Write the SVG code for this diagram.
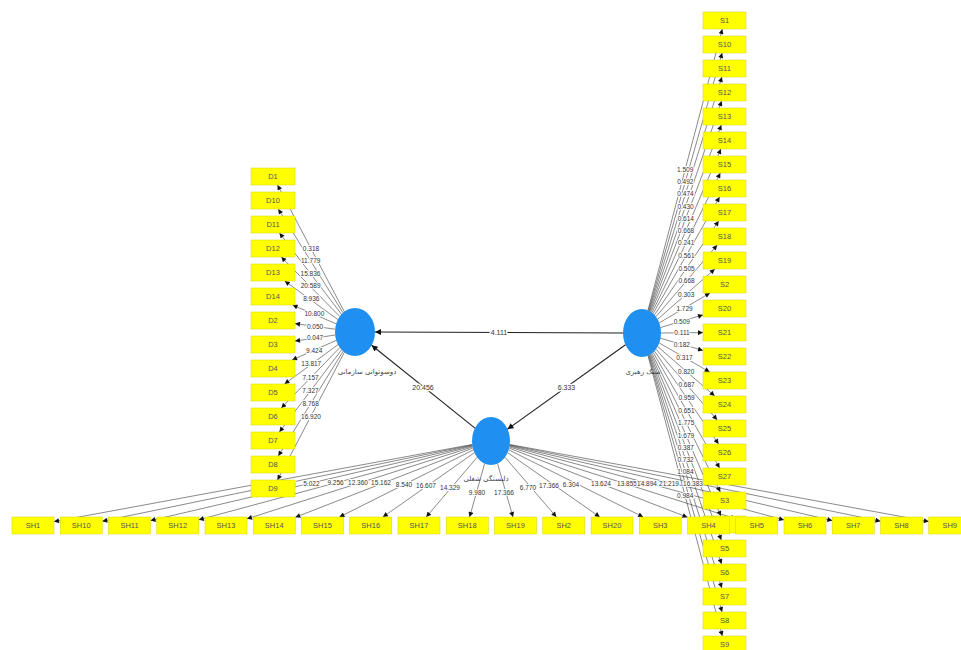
<svg xmlns="http://www.w3.org/2000/svg" width="961" height="650" viewBox="0 0 961 650">
<style>
.c{stroke:#3a3a3a;stroke-width:0.6;fill:none;marker-end:url(#ah)}
.m{stroke:#222;stroke-width:1.1;fill:none;marker-end:url(#ah2)}
.lb{font-family:"Liberation Sans",Arial,sans-serif;font-size:6.5px;fill:#333;text-anchor:middle;dominant-baseline:central;stroke:#fff;stroke-width:2;paint-order:stroke}
.ml{font-family:"Liberation Sans",Arial,sans-serif;font-size:7px;fill:#333;text-anchor:middle;dominant-baseline:central;stroke:#fff;stroke-width:3;paint-order:stroke}
.box{fill:#ffff00;stroke:#d4d400;stroke-width:0.5}
.bt{font-family:"Liberation Sans",Arial,sans-serif;font-size:7.5px;fill:#555;text-anchor:middle;dominant-baseline:central}
.lv{fill:#1f8ff0}
.fa{font-family:"DejaVu Sans","Noto Sans",sans-serif;font-size:7px;fill:#444;text-anchor:middle}
</style>
<defs>
<marker id="ah" viewBox="0 0 10 10" refX="10" refY="5" markerWidth="6" markerHeight="5" markerUnits="userSpaceOnUse" orient="auto"><path d="M0,0L10,5L0,10z" fill="#111"/></marker>
<marker id="ah2" viewBox="0 0 10 10" refX="10" refY="5" markerWidth="8" markerHeight="6" markerUnits="userSpaceOnUse" orient="auto"><path d="M0,0L10,5L0,10z" fill="#111"/></marker>
</defs>
<rect width="961" height="650" fill="#fff"/>

<g id="ambidexterity"><ellipse class="lv" cx="355" cy="332" rx="20" ry="24"/><text class="fa" x="367" y="374">دوسوتوانی سازمانی</text></g>
<g id="leadership"><ellipse class="lv" cx="642" cy="333" rx="19" ry="24"/><text class="fa" x="643" y="374">سبک رهبری</text></g>
<g id="engagement"><ellipse class="lv" cx="491" cy="441" rx="19" ry="24"/><text class="fa" x="486" y="481">دلبستگی شغلی</text></g>

<g id="connectors">
<line class="m" x1="623" y1="333" x2="375" y2="332"/>
<line class="m" x1="475" y1="428.1" x2="371.6" y2="345.3"/>
<line class="m" x1="625.5" y1="344.8" x2="507.5" y2="429.2"/>
<text class="ml" x="499" y="332.5">4.111</text>
<text class="ml" x="423" y="387">20.456</text>
<text class="ml" x="566.5" y="387">6.333</text>

<line class="c" x1="344.3" y1="311.7" x2="277.5" y2="185"/>
<line class="c" x1="343" y1="312.8" x2="278.3" y2="209"/>
<line class="c" x1="341.5" y1="314.3" x2="279.5" y2="233"/>
<line class="c" x1="339.8" y1="316.5" x2="281.3" y2="257"/>
<line class="c" x1="337.9" y1="319.6" x2="284.7" y2="281"/>
<line class="c" x1="336.2" y1="323.9" x2="292.6" y2="305"/>
<line class="c" x1="335.1" y1="329.2" x2="295" y2="323.6"/>
<line class="c" x1="335.2" y1="335" x2="295" y2="341.1"/>
<line class="c" x1="336.3" y1="340.3" x2="292.1" y2="360"/>
<line class="c" x1="338" y1="344.6" x2="284.5" y2="384"/>
<line class="c" x1="339.8" y1="347.6" x2="281.3" y2="408"/>
<line class="c" x1="341.6" y1="349.8" x2="279.4" y2="432"/>
<line class="c" x1="343.1" y1="351.3" x2="278.3" y2="456"/>
<line class="c" x1="344.4" y1="352.3" x2="277.5" y2="480"/>

<line class="c" x1="648" y1="310.2" x2="722.3" y2="29"/>
<line class="c" x1="648.5" y1="310.4" x2="722.1" y2="53"/>
<line class="c" x1="649" y1="310.7" x2="721.9" y2="77"/>
<line class="c" x1="649.6" y1="311" x2="721.6" y2="101"/>
<line class="c" x1="650.2" y1="311.4" x2="721.3" y2="125"/>
<line class="c" x1="651" y1="311.9" x2="720.9" y2="149"/>
<line class="c" x1="652" y1="312.6" x2="720.3" y2="173"/>
<line class="c" x1="653.1" y1="313.5" x2="719.6" y2="197"/>
<line class="c" x1="654.4" y1="314.9" x2="718.7" y2="221"/>
<line class="c" x1="655.9" y1="316.7" x2="717.2" y2="245"/>
<line class="c" x1="657.6" y1="319.3" x2="714.8" y2="269"/>
<line class="c" x1="659.2" y1="322.9" x2="710" y2="293"/>
<line class="c" x1="660.5" y1="327.5" x2="703" y2="314.9"/>
<line class="c" x1="661" y1="333" x2="703" y2="332.6"/>
<line class="c" x1="660.5" y1="338.3" x2="703" y2="350.4"/>
<line class="c" x1="659.3" y1="343" x2="709.7" y2="372"/>
<line class="c" x1="657.7" y1="346.6" x2="714.7" y2="396"/>
<line class="c" x1="656" y1="349.2" x2="717.2" y2="420"/>
<line class="c" x1="654.5" y1="351.1" x2="718.6" y2="444"/>
<line class="c" x1="653.2" y1="352.4" x2="719.6" y2="468"/>
<line class="c" x1="652" y1="353.4" x2="720.3" y2="492"/>
<line class="c" x1="651.1" y1="354.1" x2="720.8" y2="516"/>
<line class="c" x1="650.3" y1="354.6" x2="721.3" y2="540"/>
<line class="c" x1="649.6" y1="355" x2="721.6" y2="564"/>
<line class="c" x1="649" y1="355.3" x2="721.8" y2="588"/>
<line class="c" x1="648.5" y1="355.6" x2="722.1" y2="612"/>
<line class="c" x1="648" y1="355.8" x2="722.3" y2="636"/>

<line class="c" x1="472.2" y1="444.5" x2="54" y2="521.6"/>
<line class="c" x1="472.2" y1="444.9" x2="102.3" y2="521.2"/>
<line class="c" x1="472.3" y1="445.4" x2="150.5" y2="520.6"/>
<line class="c" x1="472.4" y1="446" x2="198.8" y2="519.8"/>
<line class="c" x1="472.6" y1="446.9" x2="247" y2="518.8"/>
<line class="c" x1="472.8" y1="448.1" x2="295.3" y2="517.3"/>
<line class="c" x1="473.3" y1="449.9" x2="339.4" y2="517"/>
<line class="c" x1="474.4" y1="452.7" x2="382.9" y2="517"/>
<line class="c" x1="477.1" y1="457.3" x2="426.2" y2="517"/>
<line class="c" x1="484.6" y1="463.6" x2="469.6" y2="517"/>
<line class="c" x1="497.5" y1="463.5" x2="513" y2="517"/>
<line class="c" x1="505" y1="457.2" x2="556.4" y2="517"/>
<line class="c" x1="507.6" y1="452.6" x2="599.8" y2="517"/>
<line class="c" x1="508.7" y1="449.8" x2="643.2" y2="517"/>
<line class="c" x1="509.2" y1="448.1" x2="687.5" y2="517.3"/>
<line class="c" x1="509.4" y1="446.9" x2="735.8" y2="518.8"/>
<line class="c" x1="509.6" y1="446" x2="784" y2="519.9"/>
<line class="c" x1="509.7" y1="445.4" x2="832.3" y2="520.6"/>
<line class="c" x1="509.8" y1="444.9" x2="880.5" y2="521.2"/>
<line class="c" x1="509.8" y1="444.5" x2="928.8" y2="521.6"/>

<text class="lb" x="311" y="248.4">0.318</text>
<text class="lb" x="310.7" y="260.9">11.779</text>
<text class="lb" x="310.5" y="273.2">15.836</text>
<text class="lb" x="310.6" y="285.5">20.589</text>
<text class="lb" x="311.3" y="298.3">8.936</text>
<text class="lb" x="314.4" y="313">10.800</text>
<text class="lb" x="315.1" y="326">0.050</text>
<text class="lb" x="315.1" y="337.8">0.047</text>
<text class="lb" x="314.2" y="350.2">9.424</text>
<text class="lb" x="311.3" y="363.8">13.817</text>
<text class="lb" x="310.6" y="377.3">7.157</text>
<text class="lb" x="310.5" y="390.3">7.327</text>
<text class="lb" x="310.7" y="403">8.768</text>
<text class="lb" x="311" y="416">16.920</text>

<text class="lb" x="685.2" y="169.6">1.509</text>
<text class="lb" x="685.3" y="181.7">0.492</text>
<text class="lb" x="685.5" y="193.9">0.474</text>
<text class="lb" x="685.6" y="206">0.430</text>
<text class="lb" x="685.8" y="218.2">0.614</text>
<text class="lb" x="686" y="230.5">0.668</text>
<text class="lb" x="686.2" y="242.8">0.241</text>
<text class="lb" x="686.4" y="255.3">0.561</text>
<text class="lb" x="686.6" y="268">0.505</text>
<text class="lb" x="686.6" y="280.9">0.668</text>
<text class="lb" x="686.2" y="294.2">0.303</text>
<text class="lb" x="684.6" y="308">1.729</text>
<text class="lb" x="681.8" y="321.2">0.509</text>
<text class="lb" x="682" y="332.8">0.111</text>
<text class="lb" x="681.8" y="344.4">0.182</text>
<text class="lb" x="684.5" y="357.5">0.317</text>
<text class="lb" x="686.2" y="371.3">0.820</text>
<text class="lb" x="686.6" y="384.6">0.687</text>
<text class="lb" x="686.6" y="397.6">0.959</text>
<text class="lb" x="686.4" y="410.2">0.651</text>
<text class="lb" x="686.2" y="422.7">1.775</text>
<text class="lb" x="686" y="435.1">1.679</text>
<text class="lb" x="685.8" y="447.3">0.387</text>
<text class="lb" x="685.6" y="459.5">0.732</text>
<text class="lb" x="685.4" y="471.7">1.084</text>
<text class="lb" x="685.2" y="495.9">0.984</text>

<text class="lb" x="263.1" y="483.1">0.181</text>
<text class="lb" x="287.2" y="483.1">1.715</text>
<text class="lb" x="311.4" y="483">5.022</text>
<text class="lb" x="335.6" y="482.9">9.256</text>
<text class="lb" x="358" y="482.9">12.360</text>
<text class="lb" x="381" y="482.7">15.162</text>
<text class="lb" x="404" y="484">8.540</text>
<text class="lb" x="426" y="485">16.607</text>
<text class="lb" x="450" y="487.2">14.329</text>
<text class="lb" x="477" y="492">9.980</text>
<text class="lb" x="504" y="492">17.366</text>
<text class="lb" x="528" y="487.5">6.770</text>
<text class="lb" x="549" y="485">17.366</text>
<text class="lb" x="571" y="484">6.304</text>
<text class="lb" x="601" y="483">13.624</text>
<text class="lb" x="627" y="483">13.855</text>
<text class="lb" x="647" y="483">14.894</text>
<text class="lb" x="669" y="483">21.219</text>
<text class="lb" x="693" y="483">16.383</text>
</g>

<g id="D1"><rect class="box" x="251" y="168" width="44" height="17"/><text class="bt" x="273" y="176.5">D1</text></g>
<g id="D10"><rect class="box" x="251" y="192" width="44" height="17"/><text class="bt" x="273" y="200.5">D10</text></g>
<g id="D11"><rect class="box" x="251" y="216" width="44" height="17"/><text class="bt" x="273" y="224.5">D11</text></g>
<g id="D12"><rect class="box" x="251" y="240" width="44" height="17"/><text class="bt" x="273" y="248.5">D12</text></g>
<g id="D13"><rect class="box" x="251" y="264" width="44" height="17"/><text class="bt" x="273" y="272.5">D13</text></g>
<g id="D14"><rect class="box" x="251" y="288" width="44" height="17"/><text class="bt" x="273" y="296.5">D14</text></g>
<g id="D2"><rect class="box" x="251" y="312" width="44" height="17"/><text class="bt" x="273" y="320.5">D2</text></g>
<g id="D3"><rect class="box" x="251" y="336" width="44" height="17"/><text class="bt" x="273" y="344.5">D3</text></g>
<g id="D4"><rect class="box" x="251" y="360" width="44" height="17"/><text class="bt" x="273" y="368.5">D4</text></g>
<g id="D5"><rect class="box" x="251" y="384" width="44" height="17"/><text class="bt" x="273" y="392.5">D5</text></g>
<g id="D6"><rect class="box" x="251" y="408" width="44" height="17"/><text class="bt" x="273" y="416.5">D6</text></g>
<g id="D7"><rect class="box" x="251" y="432" width="44" height="17"/><text class="bt" x="273" y="440.5">D7</text></g>
<g id="D8"><rect class="box" x="251" y="456" width="44" height="17"/><text class="bt" x="273" y="464.5">D8</text></g>
<g id="D9"><rect class="box" x="251" y="480" width="44" height="17"/><text class="bt" x="273" y="488.5">D9</text></g>

<g id="S1"><rect class="box" x="703" y="12" width="43" height="17"/><text class="bt" x="724.5" y="20.5">S1</text></g>
<g id="S10"><rect class="box" x="703" y="36" width="43" height="17"/><text class="bt" x="724.5" y="44.5">S10</text></g>
<g id="S11"><rect class="box" x="703" y="60" width="43" height="17"/><text class="bt" x="724.5" y="68.5">S11</text></g>
<g id="S12"><rect class="box" x="703" y="84" width="43" height="17"/><text class="bt" x="724.5" y="92.5">S12</text></g>
<g id="S13"><rect class="box" x="703" y="108" width="43" height="17"/><text class="bt" x="724.5" y="116.5">S13</text></g>
<g id="S14"><rect class="box" x="703" y="132" width="43" height="17"/><text class="bt" x="724.5" y="140.5">S14</text></g>
<g id="S15"><rect class="box" x="703" y="156" width="43" height="17"/><text class="bt" x="724.5" y="164.5">S15</text></g>
<g id="S16"><rect class="box" x="703" y="180" width="43" height="17"/><text class="bt" x="724.5" y="188.5">S16</text></g>
<g id="S17"><rect class="box" x="703" y="204" width="43" height="17"/><text class="bt" x="724.5" y="212.5">S17</text></g>
<g id="S18"><rect class="box" x="703" y="228" width="43" height="17"/><text class="bt" x="724.5" y="236.5">S18</text></g>
<g id="S19"><rect class="box" x="703" y="252" width="43" height="17"/><text class="bt" x="724.5" y="260.5">S19</text></g>
<g id="S2"><rect class="box" x="703" y="276" width="43" height="17"/><text class="bt" x="724.5" y="284.5">S2</text></g>
<g id="S20"><rect class="box" x="703" y="300" width="43" height="17"/><text class="bt" x="724.5" y="308.5">S20</text></g>
<g id="S21"><rect class="box" x="703" y="324" width="43" height="17"/><text class="bt" x="724.5" y="332.5">S21</text></g>
<g id="S22"><rect class="box" x="703" y="348" width="43" height="17"/><text class="bt" x="724.5" y="356.5">S22</text></g>
<g id="S23"><rect class="box" x="703" y="372" width="43" height="17"/><text class="bt" x="724.5" y="380.5">S23</text></g>
<g id="S24"><rect class="box" x="703" y="396" width="43" height="17"/><text class="bt" x="724.5" y="404.5">S24</text></g>
<g id="S25"><rect class="box" x="703" y="420" width="43" height="17"/><text class="bt" x="724.5" y="428.5">S25</text></g>
<g id="S26"><rect class="box" x="703" y="444" width="43" height="17"/><text class="bt" x="724.5" y="452.5">S26</text></g>
<g id="S27"><rect class="box" x="703" y="468" width="43" height="17"/><text class="bt" x="724.5" y="476.5">S27</text></g>
<g id="S3"><rect class="box" x="703" y="492" width="43" height="17"/><text class="bt" x="724.5" y="500.5">S3</text></g>
<g id="S4"><rect class="box" x="703" y="516" width="43" height="17"/><text class="bt" x="724.5" y="524.5">S4</text></g>
<g id="S5"><rect class="box" x="703" y="540" width="43" height="17"/><text class="bt" x="724.5" y="548.5">S5</text></g>
<g id="S6"><rect class="box" x="703" y="564" width="43" height="17"/><text class="bt" x="724.5" y="572.5">S6</text></g>
<g id="S7"><rect class="box" x="703" y="588" width="43" height="17"/><text class="bt" x="724.5" y="596.5">S7</text></g>
<g id="S8"><rect class="box" x="703" y="612" width="43" height="17"/><text class="bt" x="724.5" y="620.5">S8</text></g>
<g id="S9"><rect class="box" x="703" y="636" width="43" height="17"/><text class="bt" x="724.5" y="644.5">S9</text></g>

<g id="SH1"><rect class="box" x="12" y="517" width="42" height="17"/><text class="bt" x="33" y="525.5">SH1</text></g>
<g id="SH10"><rect class="box" x="60.25" y="517" width="42" height="17"/><text class="bt" x="81.25" y="525.5">SH10</text></g>
<g id="SH11"><rect class="box" x="108.5" y="517" width="42" height="17"/><text class="bt" x="129.5" y="525.5">SH11</text></g>
<g id="SH12"><rect class="box" x="156.75" y="517" width="42" height="17"/><text class="bt" x="177.75" y="525.5">SH12</text></g>
<g id="SH13"><rect class="box" x="205" y="517" width="42" height="17"/><text class="bt" x="226" y="525.5">SH13</text></g>
<g id="SH14"><rect class="box" x="253.25" y="517" width="42" height="17"/><text class="bt" x="274.25" y="525.5">SH14</text></g>
<g id="SH15"><rect class="box" x="301.5" y="517" width="42" height="17"/><text class="bt" x="322.5" y="525.5">SH15</text></g>
<g id="SH16"><rect class="box" x="349.75" y="517" width="42" height="17"/><text class="bt" x="370.75" y="525.5">SH16</text></g>
<g id="SH17"><rect class="box" x="398" y="517" width="42" height="17"/><text class="bt" x="419" y="525.5">SH17</text></g>
<g id="SH18"><rect class="box" x="446.25" y="517" width="42" height="17"/><text class="bt" x="467.25" y="525.5">SH18</text></g>
<g id="SH19"><rect class="box" x="494.5" y="517" width="42" height="17"/><text class="bt" x="515.5" y="525.5">SH19</text></g>
<g id="SH2"><rect class="box" x="542.75" y="517" width="42" height="17"/><text class="bt" x="563.75" y="525.5">SH2</text></g>
<g id="SH20"><rect class="box" x="591" y="517" width="42" height="17"/><text class="bt" x="612" y="525.5">SH20</text></g>
<g id="SH3"><rect class="box" x="639.25" y="517" width="42" height="17"/><text class="bt" x="660.25" y="525.5">SH3</text></g>
<g id="SH4"><rect class="box" x="687.5" y="517" width="42" height="17"/><text class="bt" x="708.5" y="525.5">SH4</text></g>
<g id="SH5"><rect class="box" x="735.75" y="517" width="42" height="17"/><text class="bt" x="756.75" y="525.5">SH5</text></g>
<g id="SH6"><rect class="box" x="784" y="517" width="42" height="17"/><text class="bt" x="805" y="525.5">SH6</text></g>
<g id="SH7"><rect class="box" x="832.25" y="517" width="42" height="17"/><text class="bt" x="853.25" y="525.5">SH7</text></g>
<g id="SH8"><rect class="box" x="880.5" y="517" width="42" height="17"/><text class="bt" x="901.5" y="525.5">SH8</text></g>
<g id="SH9"><rect class="box" x="928.75" y="517" width="42" height="17"/><text class="bt" x="949.75" y="525.5">SH9</text></g>
</svg>
